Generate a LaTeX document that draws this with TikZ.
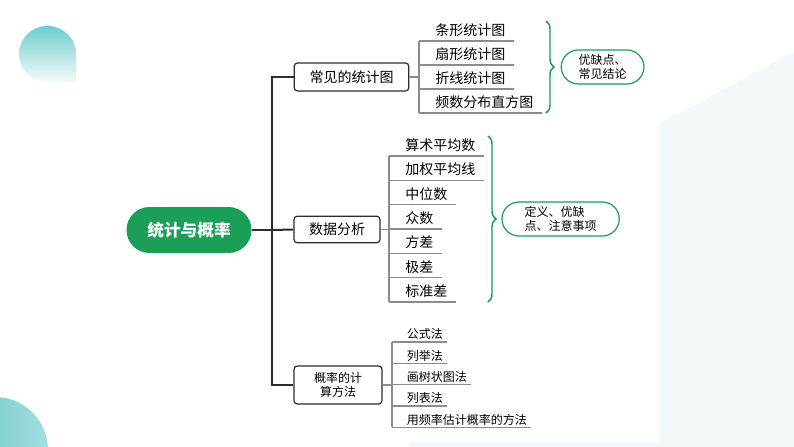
\documentclass[tikz,border=0pt]{standalone}
\usepackage{fontspec}
\setmainfont{Noto Sans CJK SC}
\usetikzlibrary{positioning,decorations.pathreplacing}
\definecolor{mapgreen}{RGB}{27,158,87}
\definecolor{linegray}{RGB}{140,140,140}
\definecolor{trunkgray}{RGB}{45,45,45}
\definecolor{tealdeco}{RGB}{110,205,205}
\definecolor{paleback}{RGB}{243,249,250}
\begin{document}
\begin{tikzpicture}[x=0.75pt,y=-0.75pt,
    root/.style={rectangle,rounded corners=17.25pt,fill=mapgreen,text=white,
      font=\fontsize{12.5pt}{14pt}\selectfont\bfseries,minimum width=93.75pt,minimum height=34.5pt},
    branch/.style={draw=trunkgray,line width=0.9pt,rounded corners=2.5pt,align=center,
      font=\fontsize{10.5pt}{12pt}\selectfont},
    leaf/.style={anchor=south west,inner xsep=0pt,inner ysep=3pt,font=\fontsize{10.5pt}{12pt}\selectfont,
      execute at begin node=\hspace*{12pt},execute at end node=\hspace*{6pt}},
    smallleaf/.style={anchor=south west,inner xsep=0pt,inner ysep=1.5pt,font=\fontsize{9pt}{10pt}\selectfont,
      execute at begin node=\hspace*{11pt},execute at end node=\hspace*{3pt}},
    note/.style={rectangle,rounded corners=12.75pt,draw=mapgreen,line width=0.9pt,align=left,
      minimum height=25.5pt,font=\fontsize{9pt}{10pt}\selectfont},
    trunk/.style={draw=trunkgray,line width=1.5pt},
    leafline/.style={draw=linegray,line width=0.9pt},
    curly/.style={draw=mapgreen,line width=1.1pt,decorate,decoration={brace,amplitude=6pt}}]
    \useasboundingbox (0,0) rectangle (794,447);
    \fill[white] (0,0) rectangle (794,447);
    % background
    \fill[paleback] (660,123) -- (794,52) -- (794,447) -- (660,447) -- cycle;
    \fill[paleback] (410,442) rectangle (660,447);
    \shade[top color=tealdeco,bottom color=tealdeco!8] (76,54) [rounded corners=21pt] -- (76,26) -- (19,26)
        -- (19,82) -- (47,82) [sharp corners] -- (76,82) -- cycle;
    \begin{scope}
        \clip (0,0) rectangle (794,447);
        \shade[left color=tealdeco!95!black,right color=tealdeco!65] (-5,450) circle[radius=39.75pt];
    \end{scope}

    % root and branches
    \node[root] (root) at (189,230) {统计与概率};
    \node[branch,minimum width=86pt,minimum height=21pt] (b1) at (351.5,77) {常见的统计图};
    \node[branch,minimum width=64.5pt,minimum height=20pt] (b2) at (337,229.5) {数据分析};
    \node[branch,minimum width=66pt,minimum height=28.5pt,font=\fontsize{9pt}{10.5pt}\selectfont]
        (b3) at (338,385) {概率的计\\算方法};
    \coordinate (j) at (272,230);
    \draw[trunk] (root.east) -- (j);
    \draw[trunk] (b1.west) -| (j) |- (b3.west);
    \draw[trunk] (j) -- (b2.west);

    % common charts
    \node[leaf] (a1) at (419,41) {条形统计图};
    \node[leaf] (a2) at (419,65) {扇形统计图};
    \node[leaf] (a3) at (419,89) {折线统计图};
    \node[leaf] (a4) at (419,113) {频数分布直方图};
    \draw[leafline] (a1.south west) -- (a1.south east) (a2.south west) -- (a2.south east)
        (a3.south west) -- (a3.south east) (a4.south west) -- (a4.south east);
    \draw[leafline] (a1.south west) -- (a4.south west);
    \draw[leafline] (b1.east) -- (b1.east -| a1.south west);

    % data analysis
    \node[leaf] (d1) at (389,156) {算术平均数};
    \node[leaf] (d2) at (389,180.3) {加权平均线};
    \node[leaf] (d3) at (389,204.7) {中位数};
    \node[leaf] (d4) at (389,229) {众数};
    \node[leaf] (d5) at (389,253.3) {方差};
    \node[leaf] (d6) at (389,277.7) {极差};
    \node[leaf] (d7) at (389,302) {标准差};
    \draw[leafline] (d1.south west) -- (d1.south east) (d2.south west) -- (d2.south east)
        (d3.south west) -- (d3.south east) (d4.south west) -- (d4.south east)
        (d5.south west) -- (d5.south east) (d6.south west) -- (d6.south east)
        (d7.south west) -- (d7.south east);
    \draw[leafline] (d1.south west) -- (d7.south west);
    \draw[leafline] (b2.east) -- (b2.east -| d1.south west);

    % probability methods
    \node[smallleaf] (p1) at (392,342) {公式法};
    \node[smallleaf] (p2) at (392,363.3) {列举法};
    \node[smallleaf] (p3) at (392,384.7) {画树状图法};
    \node[smallleaf] (p4) at (392,406) {列表法};
    \node[smallleaf] (p5) at (392,427.3) {用频率估计概率的方法};
    \draw[leafline] (p1.south west) -- (p1.south east) (p2.south west) -- (p2.south east)
        (p3.south west) -- (p3.south east) (p4.south west) -- (p4.south east)
        (p5.south west) -- (p5.south east);
    \draw[leafline] (p1.south west) -- (p5.south west);
    \draw[leafline] (b3.east) -- (b3.east -| p1.south west);

    % braces and notes
    \draw[curly] (546,21) -- (546,113) coordinate[midway,xshift=6pt] (t1);
    \draw[curly] (488,136) -- (488,302) coordinate[midway,xshift=6pt] (t2);
    \node[note,minimum width=62pt,right=5pt of t1] (n1) {优缺点、\\常见结论};
    \node[note,minimum width=88pt,right=4pt of t2] (n2) {定义、优缺\\点、注意事项};
\end{tikzpicture}
\end{document}
